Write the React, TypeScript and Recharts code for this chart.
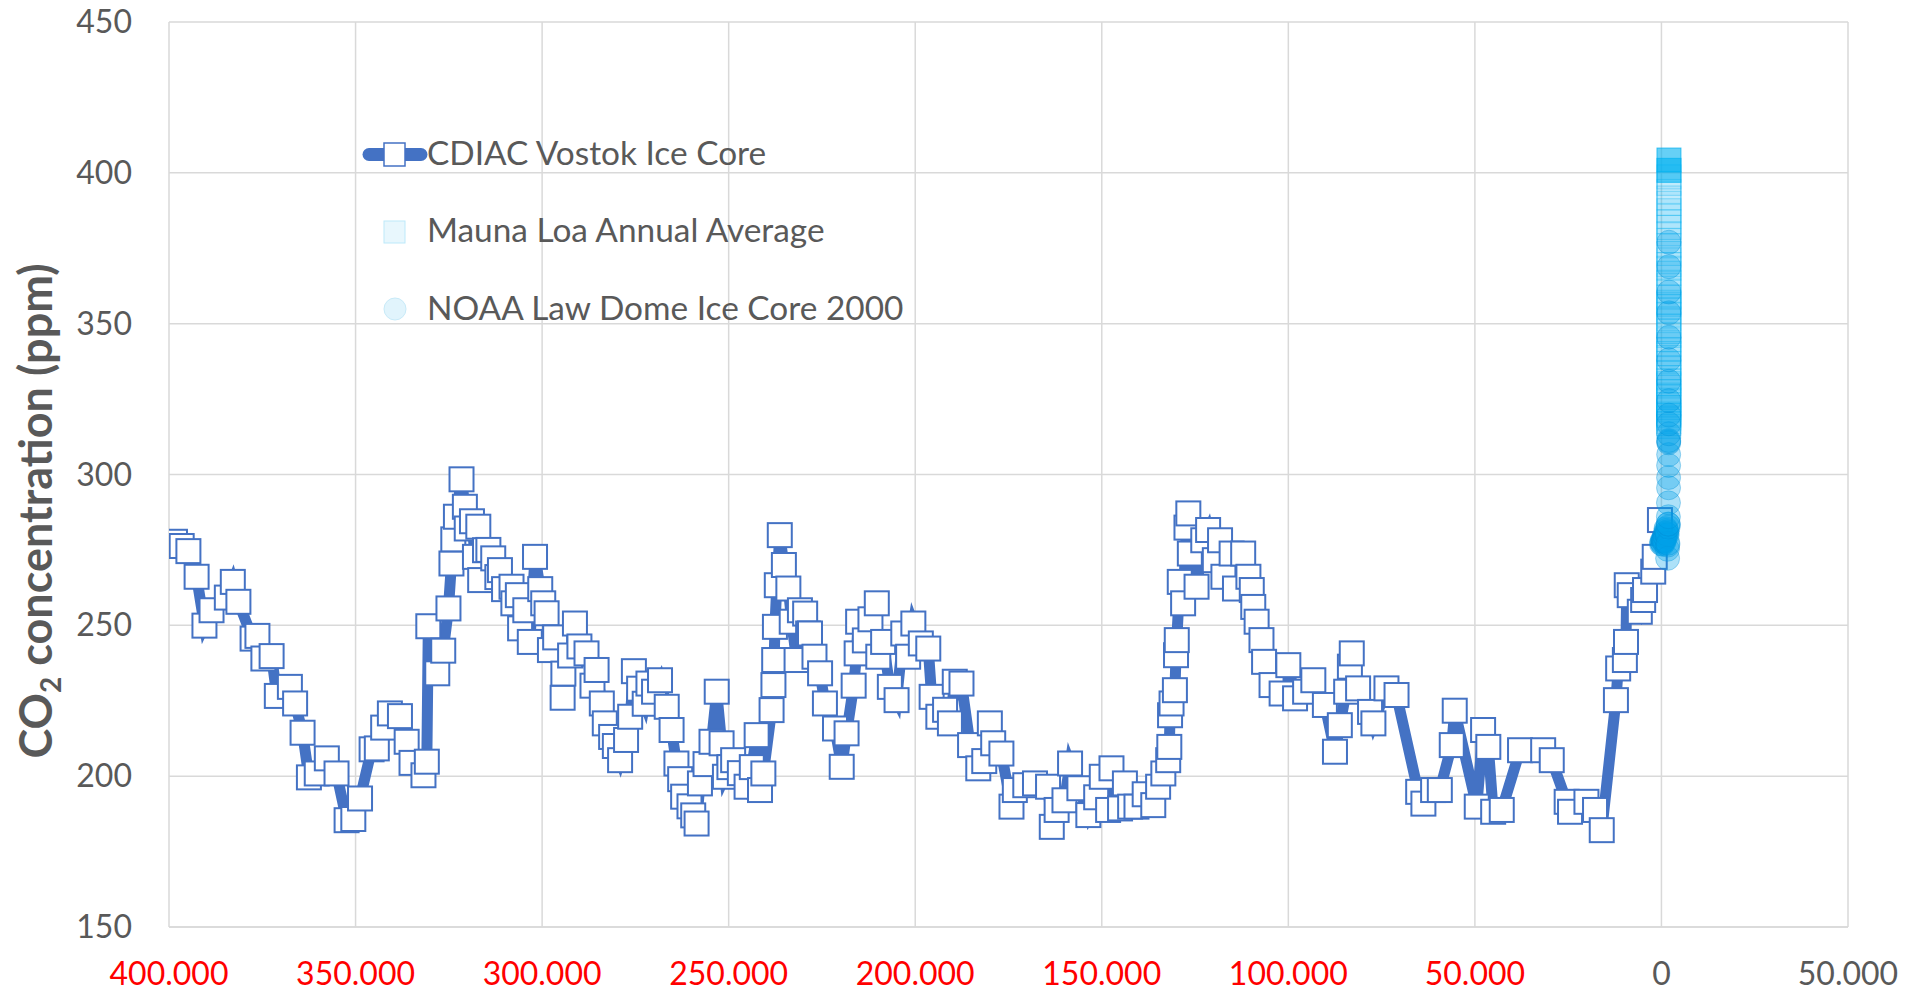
import React from 'react';
import { ScatterChart, Scatter, XAxis, YAxis, CartesianGrid, Legend } from 'recharts';

// CDIAC Vostok ice core: [gas age in years BP, CO2 ppm]
const vostok: [number, number][] = [
  [398400, 277.7], [396600, 276.3], [394800, 274.6], [392600, 266.1], [390500, 249.9], [388600, 255.0],
  [384500, 259.2], [382900, 264.4], [381400, 257.8], [377600, 245.6], [376300, 246.5], [374700, 239.0],
  [372500, 239.8], [371100, 226.6], [367600, 229.6], [366200, 224.1], [364200, 214.4], [362500, 199.6],
  [360400, 200.9], [357700, 205.9], [355100, 200.9], [352400, 185.4], [350600, 185.8], [348800, 192.6],
  [345700, 208.9], [344300, 209.2], [342600, 216.1], [340800, 220.8], [338100, 219.9], [336300, 211.4],
  [335000, 204.4], [331800, 200.3], [330900, 204.8], [330500, 249.7], [328100, 234.1], [326500, 241.6],
  [325100, 255.6], [324300, 270.5], [323800, 278.5], [323100, 286.0], [321600, 298.4], [320700, 289.3],
  [320200, 282.1], [318800, 284.5], [318000, 272.7], [317100, 282.7], [316600, 265.0], [315300, 274.9],
  [314400, 275.0], [313100, 272.2], [312000, 266.0], [311300, 268.3], [310200, 262.0], [308200, 262.8],
  [307700, 257.3], [306500, 260.0], [305900, 249.0], [304500, 255.0], [303300, 244.5], [301900, 272.7],
  [300500, 262.0], [299700, 257.3], [298800, 254.0], [297900, 241.8], [296500, 246.0], [294500, 226.0],
  [294300, 234.0], [292500, 240.0], [291200, 250.6], [290000, 243.0], [288100, 240.7], [286500, 230.0],
  [285400, 235.2], [284000, 224.1], [283200, 217.5], [281500, 213.0], [280500, 210.0], [279100, 205.3],
  [277500, 212.0], [276400, 219.7], [275400, 234.8], [274000, 229.0], [272500, 224.0], [271500, 230.7],
  [270000, 228.0], [268400, 231.8], [266600, 223.0], [265300, 215.3], [264000, 204.2], [263000, 199.0],
  [262200, 193.2], [260500, 190.0], [259500, 187.0], [258600, 184.3], [257700, 197.6], [256200, 204.0],
  [254600, 211.4], [253200, 228.0], [251900, 210.9], [251000, 199.8], [249800, 203.0], [248800, 205.3],
  [247000, 201.0], [245200, 196.5], [243800, 203.0], [242500, 213.6], [241600, 195.4], [240700, 200.9],
  [238500, 221.9], [238000, 230.2], [237800, 238.5], [237600, 249.5], [237100, 263.3], [236300, 279.9],
  [235200, 270.0], [234000, 262.2], [233100, 251.2], [231800, 238.5], [230900, 255.0], [229500, 253.9],
  [228700, 247.3], [228200, 247.3], [227000, 239.6], [225500, 234.1], [224200, 224.1], [221500, 215.8],
  [219700, 203.1], [218400, 214.2], [216500, 230.0], [215700, 240.7], [215300, 251.2], [213500, 245.0],
  [212000, 252.0], [210300, 257.3], [209900, 239.6], [208600, 244.5], [206800, 229.6], [205000, 225.2],
  [203200, 247.3], [201900, 239.6], [200500, 250.6], [198500, 244.0], [196500, 242.3], [195600, 226.3],
  [193800, 219.7], [192000, 222.0], [190700, 217.5], [189400, 231.3], [187600, 230.7], [185300, 210.3],
  [183100, 202.6], [181500, 205.0], [180000, 217.5], [179100, 210.9], [176900, 207.5], [174200, 189.9],
  [173300, 195.4], [170500, 197.0], [167900, 197.6], [164400, 196.5], [163400, 183.2], [162100, 188.8],
  [160000, 192.0], [158500, 204.2], [156000, 196.0], [153600, 187.1], [151500, 193.0], [150000, 199.8],
  [148300, 188.8], [147400, 202.6], [145100, 189.3], [143800, 197.6], [142400, 189.9], [140700, 189.9],
  [138500, 194.0], [136200, 190.4], [134900, 196.5], [133500, 200.9], [132200, 205.3], [131900, 209.7],
  [131700, 220.2], [131300, 224.1], [130400, 228.5], [130100, 240.1], [129900, 245.1], [129100, 264.4],
  [128200, 257.3], [127300, 282.4], [126800, 287.1], [126400, 273.8], [124600, 262.8], [122800, 278.2],
  [121500, 281.6], [119700, 271.6], [118300, 278.2], [117400, 266.1], [115200, 273.8], [114300, 262.2],
  [112100, 273.8], [110700, 266.1], [109800, 261.7], [109400, 256.1], [108500, 251.2], [107200, 245.1],
  [106500, 237.9], [104500, 230.2], [101800, 227.4], [100000, 236.8], [98200, 225.8], [95500, 228.0],
  [93300, 231.8], [90200, 223.6], [87500, 208.1], [86200, 216.9], [84500, 228.0], [83500, 236.3],
  [83000, 240.7], [81300, 229.1], [78100, 221.3], [77200, 217.5], [73700, 229.1], [71000, 226.9],
  [65200, 194.8], [63800, 190.9], [61200, 195.4], [59400, 195.4], [56200, 210.3], [55400, 221.7],
  [49500, 189.9], [47800, 215.3], [46400, 209.7], [45100, 188.2], [42800, 188.8], [37900, 208.6],
  [31700, 208.6], [29400, 205.3], [25400, 191.5], [24500, 188.2], [20100, 191.5], [17800, 188.8],
  [16000, 182.1], [12200, 225.2], [11600, 235.7], [9800, 238.5], [9500, 244.5], [9300, 263.3],
  [8500, 260.0], [5800, 254.5], [4900, 258.4], [4400, 261.7], [2200, 267.8], [1800, 272.7], [400, 284.9],
];

// Mauna Loa annual mean: [year AD, CO2 ppm]
const maunaLoa: [number, number][] = [
  [1959, 315.97], [1960, 316.91], [1961, 317.64], [1962, 318.45], [1963, 318.99], [1964, 319.62],
  [1965, 320.04], [1966, 321.38], [1967, 322.16], [1968, 323.04], [1969, 324.62], [1970, 325.68],
  [1971, 326.32], [1972, 327.45], [1973, 329.68], [1974, 330.18], [1975, 331.11], [1976, 332.04],
  [1977, 333.83], [1978, 335.4], [1979, 336.84], [1980, 338.75], [1981, 340.11], [1982, 341.45],
  [1983, 343.05], [1984, 344.65], [1985, 346.12], [1986, 347.42], [1987, 349.19], [1988, 351.57],
  [1989, 353.12], [1990, 354.39], [1991, 355.61], [1992, 356.45], [1993, 357.1], [1994, 358.83],
  [1995, 360.82], [1996, 362.61], [1997, 363.73], [1998, 366.7], [1999, 368.38], [2000, 369.55],
  [2001, 371.14], [2002, 373.28], [2003, 375.8], [2004, 377.52], [2005, 379.8], [2006, 381.9],
  [2007, 383.79], [2008, 385.6], [2009, 387.43], [2010, 389.9], [2011, 391.65], [2012, 393.85],
  [2013, 396.52], [2014, 398.65], [2015, 400.83], [2016, 404.24],
];

// NOAA Law Dome 2000-year record: [year AD, CO2 ppm]
const lawDome: [number, number][] = [
  [0, 277.0], [100, 277.8], [200, 277.4], [300, 276.9], [400, 278.0], [500, 278.6], [600, 278.1],
  [700, 277.7], [800, 278.3], [900, 279.8], [1000, 279.4], [1100, 280.6], [1200, 282.0], [1300, 281.5],
  [1400, 280.4], [1500, 281.0], [1550, 280.0], [1600, 275.2], [1650, 272.2], [1700, 276.6], [1750, 277.2],
  [1800, 282.6], [1820, 283.5], [1840, 283.6], [1860, 286.0], [1880, 290.6], [1900, 295.6], [1910, 299.0],
  [1920, 303.0], [1930, 306.6], [1940, 310.5], [1945, 310.9], [1950, 311.3], [1955, 313.5], [1960, 316.8],
  [1965, 319.7], [1970, 324.5], [1975, 330.9], [1980, 338.0], [1985, 345.5], [1990, 353.6], [1995, 360.5],
  [2000, 368.9], [2004, 377.0],
];

const xTicks = [-400000, -350000, -300000, -250000, -200000, -150000, -100000, -50000, 0, 50000];
const yTicks = [150, 200, 250, 300, 350, 400, 450];

const seriesNames = ['CDIAC Vostok Ice Core', 'Mauna Loa Annual Average', 'NOAA Law Dome Ice Core 2000'];

const vostokData = vostok.map(([age, co2]) => ({ x: -age, y: co2 }));
const maunaLoaData = maunaLoa.map(([year, co2]) => ({ x: year, y: co2 }));
const lawDomeData = lawDome.map(([year, co2]) => ({ x: year, y: co2 }));

const FONT = 'Lato, "Open Sans", sans-serif';
const GREY = '#595959';

// negative numbers shown red without sign, "." as thousands separator
const fmt = (v: number) => String(Math.abs(v)).replace(/\B(?=(\d{3})+(?!\d))/g, '.');

const XTick = ({ x, y, payload }: any) => (
  <text x={x} y={y} dy={56} textAnchor="middle" fontFamily={FONT} fontSize={32}
    fill={payload.value < 0 ? '#FF0000' : GREY}>
    {fmt(payload.value)}
  </text>
);

const YTick = ({ x, y, payload }: any) => (
  <text x={x - 35} y={y} dy={11} textAnchor="end" fontFamily={FONT} fontSize={32} fill={GREY}>
    {payload.value}
  </text>
);

const YTitle = () => (
  <text transform="rotate(-90)" x={-511} y={52} textAnchor="middle" fontFamily={FONT}
    fontWeight={700} fontSize={45} fill={GREY}>
    CO<tspan dy={9} fontSize={28}>2</tspan><tspan dy={-9}> concentration (ppm)</tspan>
  </text>
);

const vostokShape = (p: any) => (
  <rect x={p.cx - 12} y={p.cy - 12} width={24} height={24} fill="#fff" stroke="#4472C4" strokeWidth={2} />
);

const maunaShape = (p: any) => {
  const recent = p.payload.x >= 2015;
  return (
    <rect x={p.cx - 12} y={p.cy - 12} width={24} height={24} fill="#00B0F0"
      fillOpacity={recent ? 0.6 : 0.09} stroke="#00B0F0" strokeOpacity={recent ? 0.7 : 0.35} strokeWidth={1} />
  );
};

const lawShape = (p: any) => (
  <circle cx={p.cx} cy={p.cy} r={12} fill="#00A3E8" fillOpacity={0.32} stroke="#0090D8" strokeOpacity={0.35} strokeWidth={1} />
);

const LegendBox = () => (
  <svg width={600} height={220} style={{ overflow: 'visible' }}>
    <line x1={19} y1={34.5} x2={71} y2={34.5} stroke="#4472C4" strokeWidth={13} strokeLinecap="round" />
    <rect x={34} y={23} width={21} height={23} fill="#fff" stroke="#4472C4" strokeWidth={1.5} />
    <text x={77} y={45} fontFamily={FONT} fontSize={33.4} fill={GREY}>{seriesNames[0]}</text>
    <rect x={34} y={101} width={21} height={22} fill="#E8F7FD" stroke="#BDE9FA" strokeWidth={1} />
    <text x={77} y={121.7} fontFamily={FONT} fontSize={33.4} fill={GREY}>{seriesNames[1]}</text>
    <circle cx={45} cy={189} r={11} fill="#E1F4FC" stroke="#C8EAF8" strokeWidth={1} />
    <text x={77} y={200} fontFamily={FONT} fontSize={33.4} fill={GREY}>{seriesNames[2]}</text>
  </svg>
);

export default function App() {
  return (
    <div style={{ position: 'absolute', left: 0, top: 0, width: 1906, height: 994, background: '#fff' }}>
      <ScatterChart width={1906} height={994} margin={{ top: 22, right: 58, bottom: 0, left: 0 }}>
        <CartesianGrid stroke="#D9D9D9" strokeWidth={1.5} horizontalValues={yTicks} verticalValues={xTicks} />
        <XAxis type="number" dataKey="x" domain={[-400000, 50000]} ticks={xTicks} allowDataOverflow
          height={67} tickSize={0} tickLine={false} axisLine={{ stroke: '#D9D9D9', strokeWidth: 1.5 }}
          tick={<XTick />} interval={0} />
        <YAxis type="number" dataKey="y" domain={[150, 450]} ticks={yTicks} allowDataOverflow
          width={169} tickSize={0} tickLine={false} axisLine={false} tick={<YTick />} interval={0}
          label={<YTitle />} />
        <Legend layout="vertical" align="center" verticalAlign="middle" content={<LegendBox />}
          wrapperStyle={{ left: 350, top: 120, width: 600, height: 220 }} />
        <Scatter name={seriesNames[0]} data={vostokData} shape={vostokShape}
          line={{ stroke: '#4472C4', strokeWidth: 11 }} lineJointType="linear" isAnimationActive={false} />
        <Scatter name={seriesNames[1]} data={maunaLoaData} shape={maunaShape} isAnimationActive={false} />
        <Scatter name={seriesNames[2]} data={lawDomeData} shape={lawShape} isAnimationActive={false} />
      </ScatterChart>
    </div>
  );
}
